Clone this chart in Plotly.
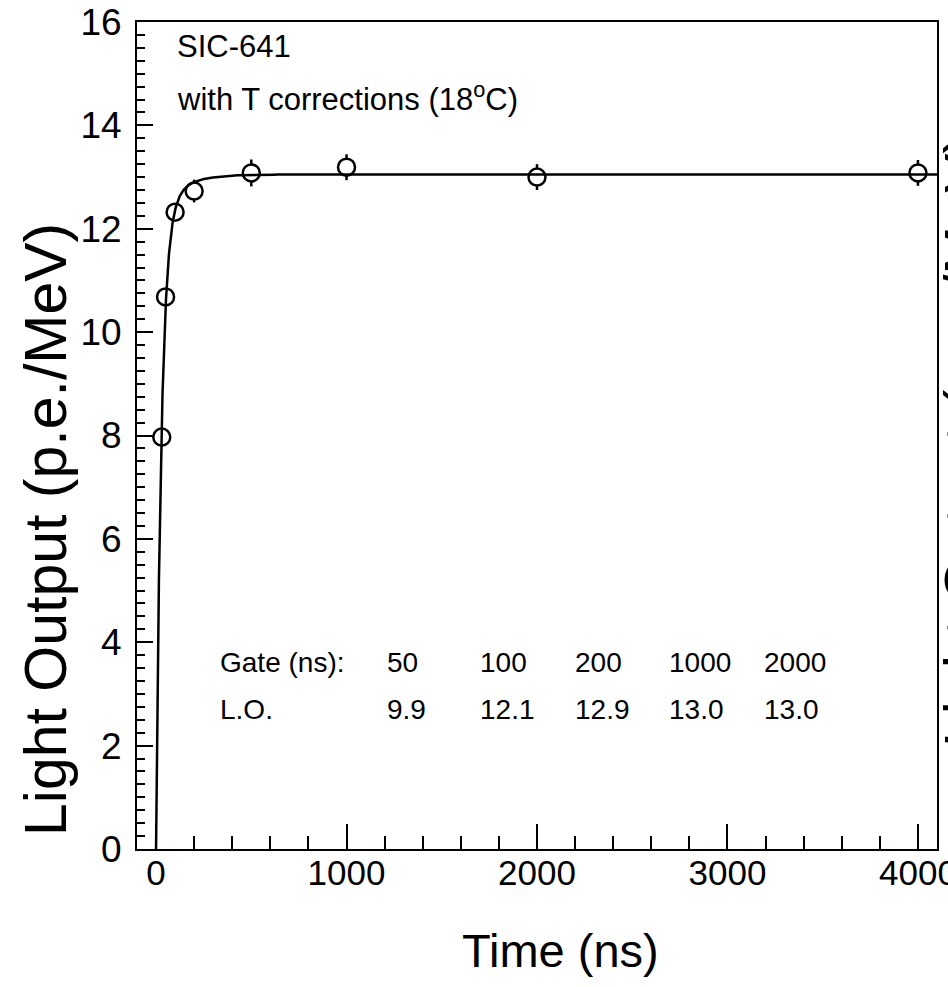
import numpy as np
import plotly.graph_objects as go

# Measured light output vs. integration gate
gate_ns = [30, 50, 100, 200, 500, 1000, 2000, 4000]
light_output = [7.97, 10.68, 12.32, 12.73, 13.08, 13.19, 13.00, 13.08]
light_err = [0.10, 0.12, 0.15, 0.22, 0.26, 0.25, 0.25, 0.25]

# Two-component saturation fit parameters
fit_a1, fit_tau1 = 12.2, 28.0
fit_a2, fit_tau2 = 0.85, 110.0

# Summary table drawn inside the frame
table_gates = ["50", "100", "200", "1000", "2000"]
table_lo = ["9.9", "12.1", "12.9", "13.0", "13.0"]

x_ticks = [0, 1000, 2000, 3000, 4000]
y_ticks = [0, 2, 4, 6, 8, 10, 12, 14, 16]

FONT = "Liberation Sans, Arial, Helvetica, sans-serif"

t_fit = np.concatenate([np.linspace(0, 400, 801), np.linspace(400.5, 4100, 400)])
lo_fit = fit_a1 * (1 - np.exp(-t_fit / fit_tau1)) + fit_a2 * (1 - np.exp(-t_fit / fit_tau2))

fig = go.Figure()
fig.add_trace(go.Scatter(
    x=gate_ns, y=light_output, mode="markers",
    marker=dict(symbol="circle", size=17, color="white",
                line=dict(color="black", width=2.5)),
    error_y=dict(type="data", array=light_err, color="black", thickness=2.5, width=0),
    showlegend=False,
))
fig.add_trace(go.Scatter(
    x=t_fit, y=lo_fit, mode="lines",
    line=dict(color="black", width=2.5),
    showlegend=False,
))

L, R, T, B = 137, 11, 22, 138
W, H = 948, 987
pw, ph = W - L - R, H - T - B


def px(xpix):
    return (xpix - L) / pw


def py(ypix):
    return (H - B - ypix) / ph


annotations = [
    dict(text="SIC-641", x=px(175), y=py(46), xanchor="left", yanchor="middle",
         font=dict(size=31)),
    dict(text="with T corrections (18<sup>o</sup>C)", x=px(175), y=py(97),
         xanchor="left", yanchor="middle", font=dict(size=31)),
    dict(text="Gate (ns):", x=px(218), y=py(662), xanchor="left", yanchor="middle",
         font=dict(size=28)),
    dict(text="L.O.", x=px(218), y=py(709), xanchor="left", yanchor="middle",
         font=dict(size=28)),
    dict(text="Time (ns)", x=px(560), y=py(950), xanchor="center", yanchor="middle",
         font=dict(size=47)),
    dict(text="Light Output (p.e./MeV)", x=px(46), y=py(530), textangle=-90,
         xanchor="center", yanchor="middle", font=dict(size=59)),
    dict(text="Light Output (p.e./MeV)", x=px(966), y=py(440), textangle=-90,
         xanchor="center", yanchor="middle", font=dict(size=59)),
]
col_x = [385, 478, 573, 667, 762]
for cx, g, v in zip(col_x, table_gates, table_lo):
    annotations.append(dict(text=g, x=px(cx), y=py(662), xanchor="left",
                            yanchor="middle", font=dict(size=28)))
    annotations.append(dict(text=v, x=px(cx), y=py(709), xanchor="left",
                            yanchor="middle", font=dict(size=28)))
for a in annotations:
    a.update(xref="paper", yref="paper", showarrow=False)
    a["font"].update(family=FONT, color="black")

fig.update_layout(
    width=W, height=H,
    margin=dict(l=L, r=R, t=T, b=B, pad=0, autoexpand=False),
    paper_bgcolor="white", plot_bgcolor="white",
    font=dict(family=FONT, color="black"),
    annotations=annotations,
    xaxis=dict(
        range=[-100, 4100], tickvals=x_ticks, ticktext=[str(v) for v in x_ticks],
        ticks="inside", ticklen=25, tickwidth=1.5, tickcolor="black",
        minor=dict(dtick=200, tick0=0, ticks="inside", ticklen=13,
                   tickwidth=1.5, tickcolor="black"),
        showline=True, linecolor="black", linewidth=2, mirror=True,
        showgrid=False, zeroline=False, automargin=False,
        tickfont=dict(size=35, family=FONT, color="black"),
        ticklabelstandoff=-8, ticklabeloverflow="allow",
    ),
    yaxis=dict(
        range=[0, 16], tickvals=y_ticks, ticktext=[str(v) for v in y_ticks],
        ticks="inside", ticklen=16, tickwidth=1.5, tickcolor="black",
        minor=dict(dtick=0.25, tick0=0, ticks="inside", ticklen=8,
                   tickwidth=1.5, tickcolor="black"),
        showline=True, linecolor="black", linewidth=2, mirror=True,
        showgrid=False, zeroline=False, automargin=False,
        tickfont=dict(size=37, family=FONT, color="black"),
        ticklabelstandoff=6, ticklabeloverflow="allow",
    ),
)

fig.write_html("out.html")
